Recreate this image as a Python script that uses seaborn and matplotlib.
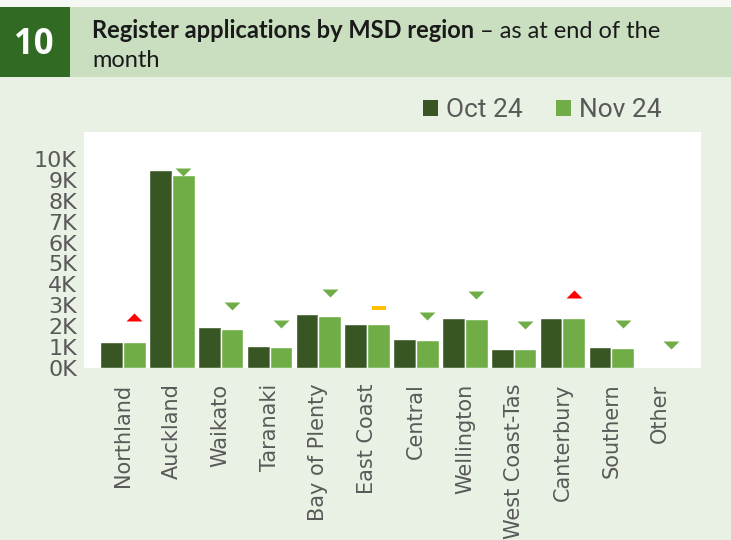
import numpy as np
import pandas as pd
import matplotlib
matplotlib.use("Agg")
import matplotlib.pyplot as plt
import seaborn as sns
from matplotlib.patches import Rectangle, Patch
from matplotlib.path import Path

# data
regions = ["Northland", "Auckland", "Waikato", "Taranaki", "Bay of Plenty", "East Coast",
           "Central", "Wellington", "West Coast-Tas", "Canterbury", "Southern", "Other"]
oct_24 = [1270, 9470, 1970, 1050, 2580, 2100, 1400, 2420, 940, 2390, 1000, 70]
nov_24 = [1270, 9210, 1880, 1020, 2500, 2100, 1370, 2350, 930, 2400, 970, 60]
# change indicator above each pair: up / down / flat
trend = ["up", "down", "down", "down", "down", "flat",
         "down", "down", "down", "up", "down", "down"]
trend_y = [2450, 9370, 2990, 2130, 3610, 2860, 2510, 3510, 2080, 3550, 2130, 1130]
y_ticks = list(range(0, 11000, 1000))

DARK = "#375623"
LIGHT = "#70AD47"
GREY = "#595959"
BG = "#E9F0E4"

df = pd.DataFrame({
    "region": regions * 2,
    "period": ["Oct 24"] * len(regions) + ["Nov 24"] * len(regions),
    "value": oct_24 + nov_24,
})

sns.set_style("white")
fig = plt.figure(figsize=(7.31, 5.40), dpi=100, facecolor=BG)
ax = fig.add_axes([0.1149, 0.318, 0.8436, 0.437])
ax.set_facecolor("white")

sns.barplot(data=df, x="region", y="value", hue="period", order=regions,
            hue_order=["Oct 24", "Nov 24"], palette=[DARK, LIGHT],
            width=0.93, gap=0, saturation=1, legend=False, ax=ax, errorbar=None)

# trend markers
down_tri = Path([(-1, 0.5), (1, 0.5), (0, -0.5), (-1, 0.5)])
up_tri = Path([(-1, -0.5), (1, -0.5), (0, 0.5), (-1, -0.5)])
dash = Path([(-1, -0.25), (1, -0.25), (1, 0.25), (-1, 0.25), (-1, -0.25)])
styles = {"up": (up_tri, "#FF0000", 11.5), "down": (down_tri, LIGHT, 11.5),
          "flat": (dash, "#FFC000", 10)}
xs = np.arange(len(regions))
for key, (mk, col, ms) in styles.items():
    sel = [i for i, t in enumerate(trend) if t == key]
    ax.plot(xs[sel] + 0.2325, np.array(trend_y)[sel], linestyle="none", marker=mk,
            color=col, markersize=ms, markeredgewidth=0)

ax.set_xlim(-0.8, len(regions) - 0.17)
ax.set_ylim(0, 11260)
ax.set_yticks(y_ticks)
ax.set_yticklabels([f"{v // 1000}K" for v in y_ticks], fontsize=16, color=GREY)
ax.set_xticks(xs)
ax.set_xticklabels(regions, rotation=90, fontsize=15, color=GREY)
ax.tick_params(axis="x", length=0, pad=11)
ax.tick_params(axis="y", length=0, pad=5)
ax.set_xlabel("")
ax.set_ylabel("")
for s in ax.spines.values():
    s.set_visible(False)

# legend
handles = [Patch(facecolor=DARK, edgecolor="none", label="Oct 24"),
           Patch(facecolor=LIGHT, edgecolor="none", label="Nov 24")]
fig.legend(handles=handles, loc="center", bbox_to_anchor=(0.742, 0.796), ncol=2,
           frameon=False, prop={"family": "Roboto", "size": 19},
           labelcolor=GREY, handlelength=0.58, handleheight=0.58,
           handletextpad=0.3, columnspacing=1.25)

# header band
fig.patches.append(Rectangle((0, 0.9865), 1, 0.0135, transform=fig.transFigure,
                             facecolor="#F5F8F3", edgecolor="none", zorder=0))
fig.patches.append(Rectangle((0.0958, 0.8574), 0.9042, 0.1291, transform=fig.transFigure,
                             facecolor="#C9DFC0", edgecolor="none", zorder=0))
fig.patches.append(Rectangle((0, 0.8574), 0.0958, 0.1291, transform=fig.transFigure,
                             facecolor="#306A23", edgecolor="none", zorder=0))
fig.text(0.046, 0.917, "10", color="white", fontsize=25, fontweight="bold",
         family="Open Sans", ha="center", va="center")

t1 = fig.text(0.1259, 1 - 38 / 540, "Register applications by MSD region", fontsize=17,
              fontweight="bold", family="Lato", color="#1A1A1A", va="baseline")
fig.canvas.draw()
bb = t1.get_window_extent()
fig.text(bb.x1 / fig.bbox.width, 1 - 38 / 540, " \u2013 as at end of the", fontsize=17,
         family="Lato", color="#1A1A1A", va="baseline")
fig.text(0.1259, 1 - 67 / 540, "month", fontsize=17, family="Lato",
         color="#1A1A1A", va="baseline")

fig.savefig("out.png", dpi=100, facecolor=BG)
